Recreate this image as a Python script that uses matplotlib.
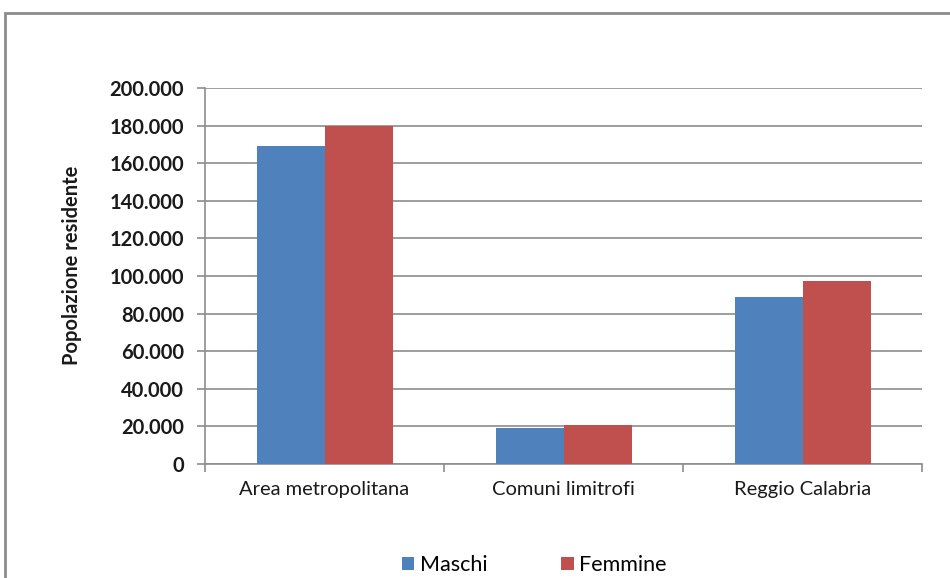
import matplotlib
matplotlib.use("Agg")
import matplotlib.pyplot as plt
import numpy as np
from matplotlib.patches import Rectangle
from matplotlib.ticker import FuncFormatter, MultipleLocator

categories = ["Area metropolitana", "Comuni limitrofi", "Reggio Calabria"]
maschi = [169000, 19000, 89000]
femmine = [180000, 20700, 97400]
series_names = ["Maschi", "Femmine"]
colors = ["#4F81BD", "#C0504D"]

plt.rcParams['font.family'] = ['Lato', 'DejaVu Sans']

fig = plt.figure(figsize=(9.5, 5.78), dpi=100)
ax = fig.add_axes([205/950, 1-464/578, (922-205)/950, (464-88)/578])

x = np.arange(len(categories))
w = 68/239
ax.bar(x - w/2, maschi, w, color=colors[0], label=series_names[0], zorder=3)
ax.bar(x + w/2, femmine, w, color=colors[1], label=series_names[1], zorder=3)

ax.set_xlim(-0.5, len(categories) - 0.5)
ax.set_ylim(0, 200000)
ax.yaxis.set_major_locator(MultipleLocator(20000))
ax.yaxis.set_major_formatter(FuncFormatter(lambda v, p: f"{int(v):,}".replace(",", ".")))
ax.grid(axis='y', color='#8c8c8c', linewidth=1.2, zorder=0)
ax.set_axisbelow(True)

for s in ['top', 'right']:
    ax.spines[s].set_visible(False)
for s in ['left', 'bottom']:
    ax.spines[s].set_color('#8c8c8c')
    ax.spines[s].set_linewidth(1.2)

ax.set_xticks(x)
ax.set_xticklabels(categories, fontsize=14.5)
ax.tick_params(axis='x', length=0, pad=12)
ax.set_xticks(np.arange(len(categories) + 1) - 0.5, minor=True)
ax.tick_params(axis='x', which='minor', length=6, color='#8c8c8c', width=1.2)
ax.tick_params(axis='y', length=6, color='#8c8c8c', width=1.2, labelsize=14.5, pad=9)
for lab in ax.get_yticklabels():
    lab.set_fontweight('bold')
    lab.set_color('#1a1a1a')
for lab in ax.get_xticklabels():
    lab.set_color('#1a1a1a')

fig.text(72/950, 1-265/578, "Popolazione residente", rotation=90, fontsize=14.5,
         fontweight='bold', ha='center', va='center', color='#1a1a1a')

fig.legend(loc='center', bbox_to_anchor=(534/950, 1-565/578), ncol=2, frameon=False,
           fontsize=15.5, handlelength=0.6, handleheight=0.6, handletextpad=0.25,
           columnspacing=3.4)

fig.patches.append(Rectangle((5/950, -0.05), 1.0, 0.05 + 1-13/578, transform=fig.transFigure,
                             fill=False, edgecolor='#8c8c8c', linewidth=2))

fig.savefig("out.png", dpi=100)
